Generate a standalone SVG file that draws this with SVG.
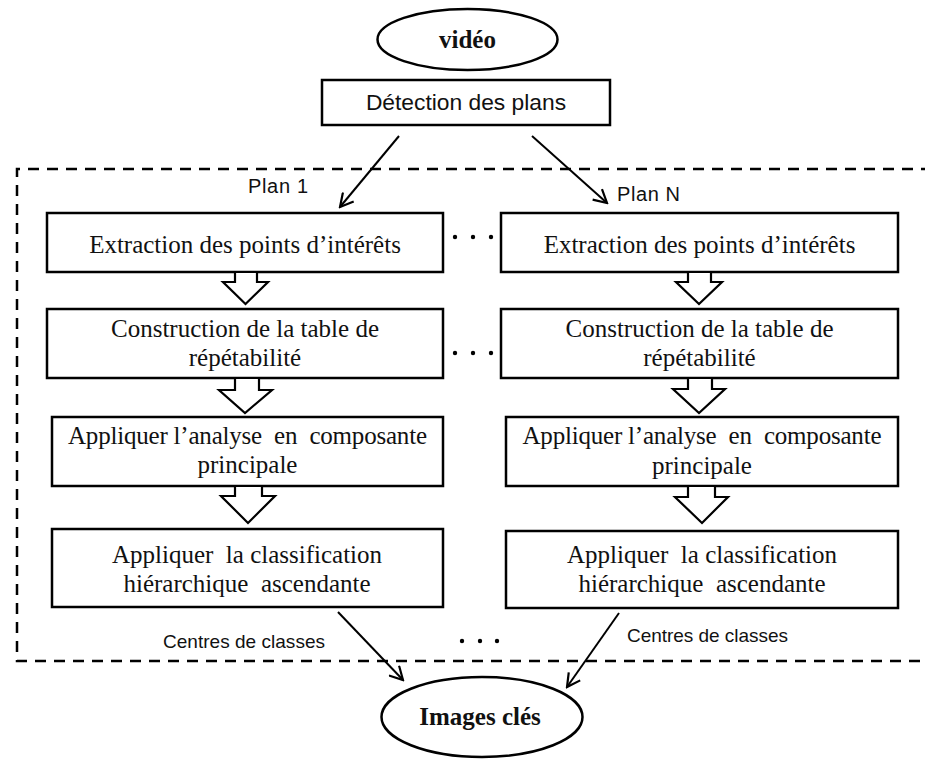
<svg xmlns="http://www.w3.org/2000/svg" width="925" height="760" viewBox="0 0 925 760">
  <style>
    .box { fill: #fff; stroke: #000; stroke-width: 2.5; }
    .oval { fill: #fff; stroke: #000; stroke-width: 2.5; }
    .serif { font-family: "Liberation Serif", "Times New Roman", serif; font-size: 25px; fill: #111; text-anchor: middle; white-space: pre; }
    .bold { font-weight: bold; }
    .sans { font-family: "Liberation Sans", Arial, sans-serif; fill: #111; }
    .flow { fill: #fff; stroke: #000; stroke-width: 2.2; stroke-linejoin: miter; }
    .link { fill: none; stroke: #000; stroke-width: 2; marker-end: url(#head); }
    .frame { fill: none; stroke: #000; stroke-width: 2.5; stroke-dasharray: 11 8; }
  </style>
  <defs>
    <marker id="head" viewBox="0 0 16 16" refX="14" refY="8" markerWidth="16" markerHeight="16" markerUnits="userSpaceOnUse" orient="auto">
      <path d="M1,1 L14,8 L1,15" fill="none" stroke="#000" stroke-width="2.2"/>
    </marker>
  </defs>

  <rect width="925" height="760" fill="#fff"/>

  <!-- dashed frame around the per-shot processing (open on the right) -->
  <path class="frame" d="M932,169 H17 V661 H932"/>

  <!-- input video -->
  <g id="video">
    <ellipse class="oval" cx="467.5" cy="39.5" rx="90" ry="30.5"/>
    <text class="serif bold" x="467.5" y="48">vidéo</text>
  </g>

  <g id="detection">
    <rect class="box" x="322" y="80" width="288" height="45"/>
    <text class="sans" x="466" y="110" font-size="22.8" text-anchor="middle">Détection des plans</text>
  </g>

  <g id="plan-labels">
    <text class="sans" x="248" y="193" font-size="20" textLength="60">Plan 1</text>
    <text class="sans" x="617" y="201" font-size="20" textLength="63">Plan N</text>
  </g>

  <!-- column 1 -->
  <g id="extract-1">
    <rect class="box" x="47" y="213" width="396" height="59"/>
    <text class="serif" x="245" y="253">Extraction des points d’intérêts</text>
  </g>
  <g id="table-1">
    <rect class="box" x="47" y="309" width="396" height="69"/>
    <text class="serif" x="245" y="337">Construction de la table de</text>
    <text class="serif" x="245" y="366">répétabilité</text>
  </g>
  <g id="acp-1">
    <rect class="box" x="52" y="417" width="391" height="69"/>
    <text class="serif" x="247.5" y="444" textLength="359">Appliquer l’analyse  en  composante</text>
    <text class="serif" x="247.5" y="473">principale</text>
  </g>
  <g id="cah-1">
    <rect class="box" x="52" y="529" width="391" height="78"/>
    <text class="serif" x="247" y="563">Appliquer  la classification</text>
    <text class="serif" x="247" y="592">hiérarchique  ascendante</text>
  </g>

  <!-- column N -->
  <g id="extract-n">
    <rect class="box" x="501" y="213" width="397" height="59"/>
    <text class="serif" x="699.5" y="253">Extraction des points d’intérêts</text>
  </g>
  <g id="table-n">
    <rect class="box" x="501" y="309" width="397" height="69"/>
    <text class="serif" x="699.5" y="337">Construction de la table de</text>
    <text class="serif" x="699.5" y="366">répétabilité</text>
  </g>
  <g id="acp-n">
    <rect class="box" x="506" y="417" width="392" height="69"/>
    <text class="serif" x="702" y="444" textLength="359">Appliquer l’analyse  en  composante</text>
    <text class="serif" x="702" y="474">principale</text>
  </g>
  <g id="cah-n">
    <rect class="box" x="506" y="531" width="392" height="77"/>
    <text class="serif" x="702" y="563">Appliquer  la classification</text>
    <text class="serif" x="702" y="592">hiérarchique  ascendante</text>
  </g>

  <g id="centres-labels">
    <text class="sans" x="163" y="648" font-size="19" textLength="162">Centres de classes</text>
    <text class="sans" x="627" y="642" font-size="19" textLength="161">Centres de classes</text>
  </g>

  <!-- ellipsis dots between the columns -->
  <g id="ellipses" fill="#000">
    <circle cx="455" cy="237" r="2.2"/><circle cx="473" cy="237" r="2.2"/><circle cx="491" cy="237" r="2.2"/>
    <circle cx="455" cy="353" r="2.2"/><circle cx="473" cy="353" r="2.2"/><circle cx="491" cy="353" r="2.2"/>
    <circle cx="462" cy="641" r="2.2"/><circle cx="480" cy="641" r="2.2"/><circle cx="497" cy="641" r="2.2"/>
  </g>

  <!-- key frames output -->
  <g id="images-cles">
    <ellipse class="oval" cx="482" cy="717" rx="100.5" ry="40"/>
    <text class="serif bold" x="480" y="725">Images clés</text>
  </g>

  <g id="connectors">
    <line class="link" x1="399" y1="136" x2="340" y2="207"/>
    <line class="link" x1="532" y1="136" x2="607" y2="203"/>
    <line class="link" x1="338" y1="612" x2="403" y2="680"/>
    <line class="link" x1="619" y1="613" x2="567" y2="687"/>

    <!-- block arrows, column 1 -->
    <path class="flow" d="M235,273 V282 H223 L245.5,304 L268,282 H257 V273"/>
    <path class="flow" d="M235,379 V390 H219 L245,413 L272,390 H259 V379"/>
    <path class="flow" d="M235,487 V496 H221 L248,523 L275,496 H262 V487"/>
    <!-- block arrows, column N -->
    <path class="flow" d="M688,273 V282 H676 L699,304 L722,282 H711 V273"/>
    <path class="flow" d="M688,379 V389 H673 L699,413 L725,389 H712 V379"/>
    <path class="flow" d="M688,487 V497 H675 L702,523 L728,497 H715 V487"/>
  </g>
</svg>
